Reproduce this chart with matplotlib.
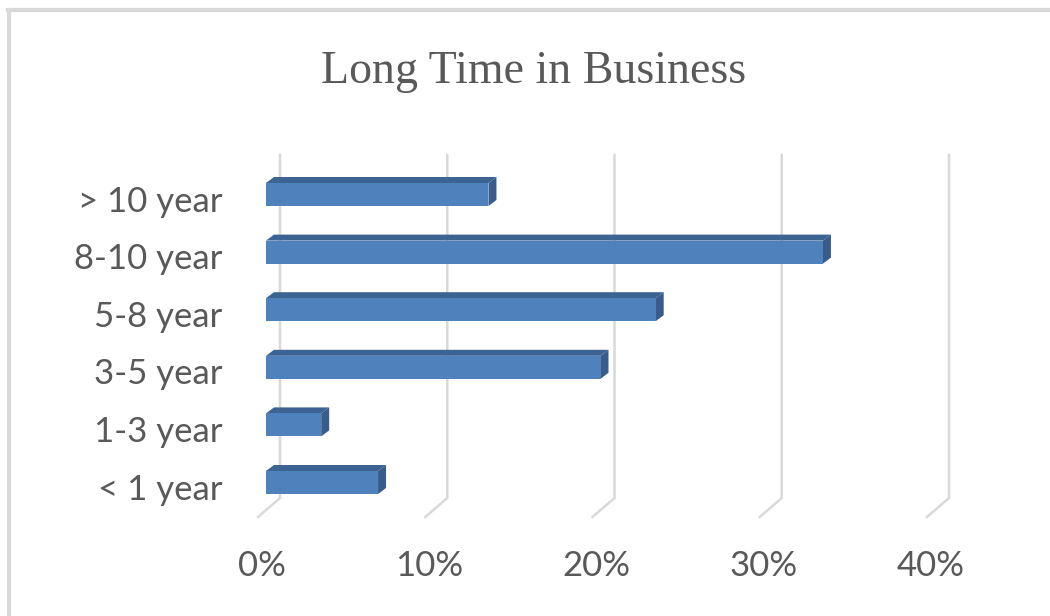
import matplotlib
matplotlib.use("Agg")
import matplotlib.pyplot as plt
from matplotlib.patches import Polygon, Rectangle
from matplotlib.lines import Line2D

categories = ["< 1 year", "1-3 year", "3-5 year", "5-8 year", "8-10 year", "> 10 year"]
values = [6.7, 3.3, 20.0, 23.3, 33.3, 13.3]
ticks = [0, 10, 20, 30, 40]
tick_labels = ["0%", "10%", "20%", "30%", "40%"]
title = "Long Time in Business"

W, H = 1050, 616
fig = plt.figure(figsize=(W / 100, H / 100), dpi=100)

# pixel geometry
px_per_unit_x = 16.725
px_per_unit_y = 57.6
xmin, xmax = -2, 42
ymin, ymax = -1, 6
left_px = 280 + xmin * px_per_unit_x
width_px = (xmax - xmin) * px_per_unit_x
top_px = 482.5 - ymax * px_per_unit_y
bot_px = 482.5 - ymin * px_per_unit_y
ax = fig.add_axes([left_px / W, (H - bot_px) / H, width_px / W, (bot_px - top_px) / H])
ax.set_xlim(xmin, xmax)
ax.set_ylim(ymin, ymax)
ax.axis("off")

grid_col = "#d9d9d9"
text_col = "#595959"

# gridlines (back wall + floor)
gy_top = (482.5 - 155) / px_per_unit_y
gy_bot = (482.5 - 498) / px_per_unit_y
gy_floor = (482.5 - 517) / px_per_unit_y
floor_dx = -22 / px_per_unit_x
for t in ticks:
    ax.plot([t, t, t + floor_dx], [gy_top, gy_bot, gy_floor], color=grid_col,
            lw=1.8, solid_joinstyle="miter", zorder=1, clip_on=False)

# 3D bars
front_off = -14 / px_per_unit_x
dx = 8 / px_per_unit_x
dy = 6 / px_per_unit_y
h = 23 / px_per_unit_y
front_col = "#4f81bd"
top_col = "#3c6493"
side_col = "#385d8a"
for i, v in enumerate(values):
    x0 = front_off
    x1 = front_off + v
    yb = i - h / 2
    yt = i + h / 2
    ax.add_patch(Polygon([[x0, yt], [x0 + dx, yt + dy], [x1 + dx, yt + dy], [x1, yt]],
                         closed=True, facecolor=top_col, edgecolor="none", zorder=3))
    ax.add_patch(Polygon([[x1, yb], [x1, yt], [x1 + dx, yt + dy], [x1 + dx, yb + dy]],
                         closed=True, facecolor=side_col, edgecolor="none", zorder=3))
    ax.add_patch(Rectangle((x0, yb), v, h, facecolor=front_col, edgecolor="none", zorder=4))

# category labels
lab_x = (222 - 280) / px_per_unit_x
lab_dy = 17 / px_per_unit_y
for i, c in enumerate(categories):
    ax.text(lab_x, i - lab_dy, c, ha="right", va="baseline", fontsize=25,
            family="Lato", color=text_col, clip_on=False)

# tick labels
tl_y = (482.5 - 576) / px_per_unit_y
for t, lab in zip(ticks, tick_labels):
    ax.text(t - 18 / px_per_unit_x, tl_y, lab, ha="center", va="baseline", fontsize=25,
            family="Lato", color=text_col, clip_on=False)

# title
fig.text(534 / W, 1 - 83 / H, title, ha="center", va="baseline", fontsize=33,
         family="Liberation Serif", color=text_col)

# chart border (left and top visible)
fig.add_artist(Line2D([9 / W, 9 / W], [0, 1 - 10 / H], color=grid_col, lw=3,
                      transform=fig.transFigure))
fig.add_artist(Line2D([7.5 / W, 1], [1 - 10 / H, 1 - 10 / H], color=grid_col, lw=3,
                      transform=fig.transFigure))

fig.savefig("out.png", dpi=100, facecolor="white")
